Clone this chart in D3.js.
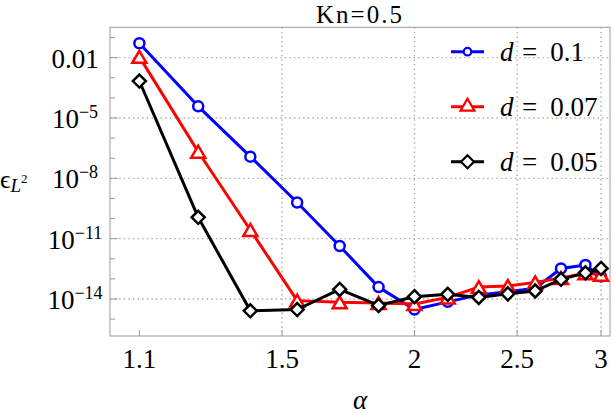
<!DOCTYPE html>
<html><head><meta charset="utf-8">
<script src="https://cdn.jsdelivr.net/npm/d3@7"></script>
<style>
body{margin:0;background:#fff;}
text{font-family:"Liberation Serif","DejaVu Serif",serif;fill:#000;}
</style></head>
<body><svg id="c" width="614" height="414"></svg>
<script>
const alpha = [1.1,1.25,1.4,1.55,1.7,1.85,2.0,2.15,2.3,2.45,2.6,2.75,2.9,3.0];
const errD01  = [5.2e-2,3.8e-5,1.2e-7,6.3e-10,4.3e-12,3.9e-14,3.0e-15,7.2e-15,1.6e-14,2.3e-14,3.4e-14,3.3e-13,4.9e-13,1.3e-13];
const errD007 = [1.1e-2,2.1e-7,2.7e-11,8.3e-15,6.8e-15,6.3e-15,5.6e-15,1.2e-14,3.9e-14,4.4e-14,6.7e-14,1.1e-13,1.9e-13,1.6e-13];
const errD005 = [6.9e-4,1.15e-10,2.6e-15,3.0e-15,3.0e-14,4.8e-15,1.3e-14,1.7e-14,1.2e-14,1.8e-14,2.5e-14,9.5e-14,2.0e-13,3.3e-13];
const seriesNames = ["0.1","0.07","0.05"];
const xTickValues = [1.1,1.5,2,2.5,3];
const xTickLabels = ["1.1","1.5","2","2.5","3"];
const xGridValues = [1.5,2,2.5,3];
const yTickValues = [1e-2,1e-5,1e-8,1e-11,1e-14];
const yTickLabels = ["0.01","10^\u22125","10^\u22128","10^\u221211","10^\u221214"];
const yMinorExps = [-1,-3,-4,-6,-7,-9,-10,-12,-13,-15];
const title = "Kn=0.5";

const svg = d3.select("#c");
const L=110,R=610,T=27.3,B=336;
const FS=27;
const x = d3.scaleLog().domain([1.032,3.059]).range([L,R]);
const y = d3.scaleLog().domain([Math.pow(10,-15.84),Math.pow(10,-0.49)]).range([B,T]);

// grid
const g = svg.append("g");
g.selectAll(".gx").data(xGridValues).enter().append("line")
  .attr("x1",d=>x(d)).attr("x2",d=>x(d)).attr("y1",T).attr("y2",B)
  .attr("stroke","#aaa").attr("stroke-width",1.4).attr("stroke-dasharray","1.4,3.2");
g.selectAll(".gy").data(yTickValues).enter().append("line")
  .attr("x1",L).attr("x2",R).attr("y1",d=>y(d)).attr("y2",d=>y(d))
  .attr("stroke","#aaa").attr("stroke-width",1.4).attr("stroke-dasharray","1.4,3.2");

// frame
svg.append("rect").attr("x",L).attr("y",T).attr("width",R-L).attr("height",B-T)
  .attr("fill","none").attr("stroke","#999").attr("stroke-width",1);

// ticks
svg.selectAll(".ty").data(yTickValues).enter().append("line")
  .attr("x1",L).attr("x2",L+8).attr("y1",d=>y(d)).attr("y2",d=>y(d)).attr("stroke","#999");
svg.selectAll(".tym").data(yMinorExps).enter().append("line")
  .attr("x1",L).attr("x2",L+5).attr("y1",d=>y(Math.pow(10,d))).attr("y2",d=>y(Math.pow(10,d))).attr("stroke","#999");
svg.selectAll(".tx").data(xTickValues).enter().append("line")
  .attr("x1",d=>x(d)).attr("x2",d=>x(d)).attr("y1",B).attr("y2",B-6).attr("stroke","#999");

// tick labels
svg.selectAll(".lx").data(xTickValues).enter().append("text")
  .attr("x",d=>x(d)).attr("y",368).attr("text-anchor","middle").attr("font-size",FS)
  .text((d,i)=>xTickLabels[i]);
yTickValues.forEach((v,i)=>{
  const parts = yTickLabels[i].split("^");
  const t = svg.append("text").attr("x",75).attr("y",y(v)+10).attr("text-anchor","middle").attr("font-size",FS);
  t.append("tspan").text(parts[0]);
  if(parts[1]) t.append("tspan").attr("dy",-10).attr("font-size",18).text(parts[1]);
});

// title & axis labels
svg.append("text").attr("x",360).attr("y",22.5).attr("text-anchor","middle").attr("font-size",25)
  .attr("letter-spacing",2).text(title);
svg.append("text").attr("x",360).attr("y",409).attr("text-anchor","middle").attr("font-size",FS).attr("font-style","italic").text("\u03b1");
const yl = svg.append("text").attr("x",0).attr("y",188).attr("font-size",26);
yl.append("tspan").text("\u03f5");
yl.append("tspan").attr("dy",4).attr("font-size",19).attr("font-style","italic").text("L");
yl.append("tspan").attr("dy",-9).attr("font-size",13).text("2");

// markers
function marker(sel,type,s,sw,color){
  if(type==="circle") sel.append("circle").attr("r",5*s).attr("fill","#fff").attr("stroke",color).attr("stroke-width",sw);
  else if(type==="tri") sel.append("path").attr("d",`M0,${-6*s}L${7*s},${6*s}L${-7*s},${6*s}Z`).attr("fill","#fff").attr("stroke",color).attr("stroke-width",sw);
  else sel.append("path").attr("d",`M0,${-6.5*s}L${6.5*s},0L0,${6.5*s}L${-6.5*s},0Z`).attr("fill","#fff").attr("stroke",color).attr("stroke-width",sw);
}
const series = [
  {vals:errD01,color:"#0000ff",type:"circle"},
  {vals:errD007,color:"#ff0000",type:"tri"},
  {vals:errD005,color:"#000000",type:"diamond"}
];
const line = d3.line().x((d,i)=>x(alpha[i])).y(d=>y(d));
series.forEach(s=>{
  svg.append("path").attr("d",line(s.vals)).attr("fill","none").attr("stroke",s.color).attr("stroke-width",3).attr("stroke-linejoin","round");
  s.vals.forEach((v,i)=>{
    const m = svg.append("g").attr("transform",`translate(${x(alpha[i])},${y(v)})`);
    marker(m,s.type,1,2.5,s.color);
  });
});

// legend
const legY = [51.7,106.7,161.7];
series.forEach((s,i)=>{
  svg.append("line").attr("x1",451).attr("x2",484).attr("y1",legY[i]).attr("y2",legY[i]).attr("stroke",s.color).attr("stroke-width",3);
  const m = svg.append("g").attr("transform",`translate(467.5,${legY[i]-(s.type==="tri"?2:0)})`);
  marker(m,s.type,s.type==="circle"?0.75:1,2.2,s.color);
  const t = svg.append("text").attr("x",500).attr("y",legY[i]+9.5).attr("font-size",FS);
  t.append("tspan").attr("font-style","italic").text("d");
  t.append("tspan").attr("dx",8.5).text("=");
  t.append("tspan").attr("dx",13).text(seriesNames[i]);
});
</script></body></html>
